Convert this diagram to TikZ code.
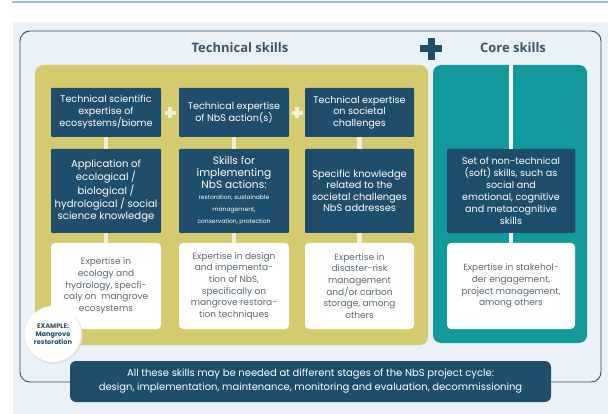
\documentclass[tikz,border=0pt]{standalone}
\usepackage{fontspec}
\setmainfont{Poppins}
\newfontfamily\headfont{Open Sans}
\definecolor{navy}{HTML}{1F4E6C}
\definecolor{olive}{HTML}{D5CB6E}
\definecolor{tealp}{HTML}{12999B}
\definecolor{cream}{HTML}{F4F0D2}
\definecolor{outl}{HTML}{3F4C57}
\definecolor{headc}{HTML}{3E5566}
\definecolor{greyt}{HTML}{5B6770}
\definecolor{bgc}{HTML}{EAF2F8}
\definecolor{topl}{HTML}{9DBFCC}
\newcommand{\smallsz}{\fontsize{6}{9}\selectfont}
\tikzset{
  darkbox/.style={fill=navy, text=white, rounded corners=1pt, inner sep=1pt, align=center,
     font=\fontsize{9.6}{11.5}\selectfont},
  whitebox/.style={fill=white, text=greyt, rounded corners=4pt, inner sep=1pt, align=center,
     font=\fontsize{9}{11.7}\selectfont},
  conn/.style={draw=cream, line width=4.5pt},
  headtext/.style={text=headc, font=\headfont\bfseries\fontsize{13}{15}\selectfont},
}
\begin{document}
\begin{tikzpicture}[x=1pt,y=-1pt]
\useasboundingbox (0,0) rectangle (608,414);
\fill[white] (0,0) rectangle (608,414);
% top line
\draw[topl, line width=1.2pt] (12,2) -- (608,2);
% background panel
\fill[bgc] (13,22) rectangle (608,414);
% outline
\draw[outl, line width=0.9pt, rounded corners=10pt] (20,31) rectangle (601,382);
% headers
\node[headtext] (ht) at (240,48) {Technical skills};
\node[headtext] (hc) at (513,48) {Core skills};
\fill[navy] (420,45.5) rectangle (442,52.5);
\fill[navy] (427.5,38) rectangle (434.5,60);
% panels
\fill[olive, rounded corners=8pt] (35,65) rectangle (428,345);
\fill[tealp, rounded corners=8pt] (433,65) rectangle (587,343);
% top row
\node[darkbox, minimum width=110pt, minimum height=49pt] (t1) at (106,112.5) {Technical scientific\\expertise of\\ecosystems/biome};
\node[darkbox, minimum width=110pt, minimum height=49pt] (t2) at (234,112.5) {Technical expertise\\of NbS action(s)};
\node[darkbox, minimum width=109pt, minimum height=49pt] (t3) at (359.5,112.5) {Technical expertise\\on societal\\challenges};
% middle row
\node[darkbox, minimum width=110pt, minimum height=84pt, font=\fontsize{10.1}{11.7}\selectfont] (m1) at (106,191) {Application of\\ecological /\\biological /\\hydrological / social\\science knowledge};
\node[darkbox, minimum width=110pt, minimum height=84pt, font=\fontsize{10.6}{12}\selectfont] (m2) at (234,191) {Skills for\\implementing\\NbS actions:\\[-1pt]\smallsz restoration, sustainable\\\smallsz management,\\\smallsz conservation, protection};
\node[darkbox, minimum width=109pt, minimum height=84pt, font=\fontsize{9.8}{11.5}\selectfont] (m3) at (359.5,191) {Specific knowledge\\related to the\\societal challenges\\NbS addresses};
\node[darkbox, minimum width=128pt, minimum height=84pt, font=\fontsize{9.6}{12}\selectfont] (c2) at (511,191) {Set of non-technical\\(soft) skills, such as\\social and\\emotional, cognitive\\and metacognitive\\skills};
% bottom row
\node[whitebox, minimum width=110pt, minimum height=86pt] (b1) at (106,286) {Expertise in\\ecology and\\hydrology, specfi-\\caly on\ \ mangrove\\ecosystems};
\node[whitebox, minimum width=110pt, minimum height=86pt] (b2) at (234,286) {Expertise in design\\and impementa-\\tion of NbS,\\specifically on\\mangrove restora-\\tion techniques};
\node[whitebox, minimum width=109pt, minimum height=86pt] (b3) at (359.5,286) {Expertise in\\disaster-risk\\management\\and/or carbon\\storage, among\\others};
\node[whitebox, minimum width=128pt, minimum height=86pt] (c3) at (511,286) {Expertise in stakehol-\\der engagement,\\project management,\\among others};
% connectors
\draw[conn] (t1) -- (m1);
\draw[conn] (m1) -- (b1);
\draw[conn] (t2) -- (m2);
\draw[conn] (m2) -- (b2);
\draw[conn] (t3) -- (m3);
\draw[conn] (m3) -- (b3);
\coordinate (ctop) at (511,65);
\draw[draw=white, line width=4pt] (ctop) -- (c2);
\draw[draw=white, line width=4pt] (c2) -- (c3);
% small plus signs
\fill[cream] (164.5,111) rectangle (175.5,115);
\fill[cream] (168,107.5) rectangle (172,118.5);
\fill[cream] (291.5,111) rectangle (302.5,115);
\fill[cream] (295,107.5) rectangle (299,118.5);
% example circle
\fill[black!12] (54,335.5) circle (28.5);
\node[circle, fill=white, minimum size=56pt, inner sep=0pt, align=center, text=navy,
  font=\bfseries\fontsize{6.6}{8}\selectfont] (ex) at (53,334) {\textcolor{outl}{EXAMPLE:}\\Mangrove\\restoration};
% bottom bar
\node[fill=navy, rounded corners=6pt, minimum width=481pt, minimum height=41pt, text=white, align=center,
  font=\fontsize{10}{14}\selectfont] (bar) at (310.5,381.5) {All these skills may be needed at different stages of the NbS project cycle:\\design, implementation, maintenance, monitoring and evaluation, decommissioning};
\end{tikzpicture}
\end{document}
